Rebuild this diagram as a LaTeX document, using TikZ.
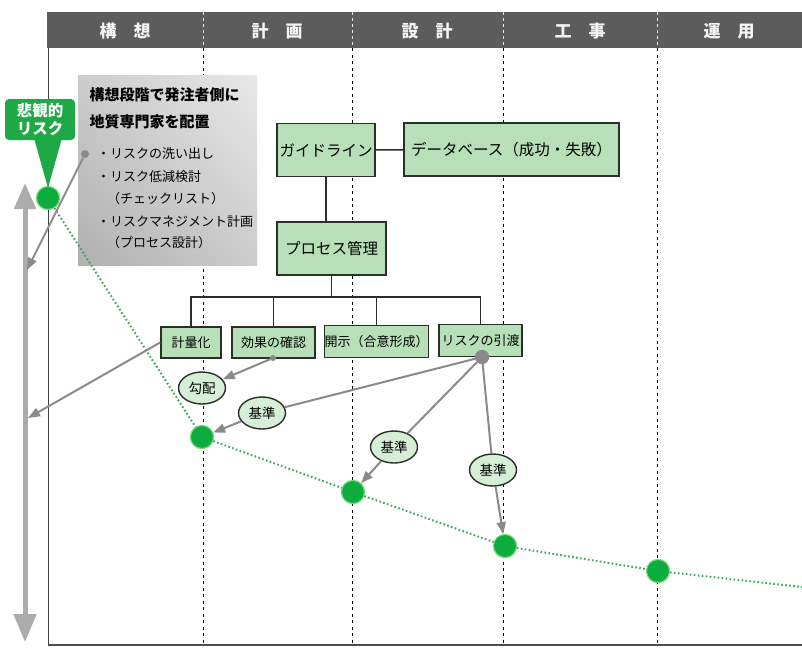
\documentclass[tikz,border=0pt]{standalone}
\usepackage{fontspec}
\setmainfont{Noto Sans CJK JP}
\usetikzlibrary{arrows.meta,shapes.geometric,shadings}
\definecolor{hdr}{RGB}{92,92,92}
\definecolor{boxgreen}{RGB}{184,224,184}
\definecolor{ellgreen}{RGB}{214,237,214}
\definecolor{dotgreen}{RGB}{12,172,62}
\definecolor{glowgreen}{RGB}{120,220,120}
\definecolor{callgreen}{RGB}{30,168,70}
\definecolor{arrgray}{RGB}{138,138,138}
\definecolor{vgray}{RGB}{172,172,172}
\definecolor{dotline}{RGB}{60,165,95}
\definecolor{edge}{RGB}{40,48,40}
\begin{document}
\begin{tikzpicture}[x=1pt,y=-1pt,
  gbox/.style={draw=edge, line width=1.7pt, fill=boxgreen, inner sep=0pt, font=\fontsize{15.5}{17}\selectfont},
  sbox/.style={draw=edge, line width=1.7pt, fill=boxgreen, inner sep=0pt, font=\fontsize{13}{15}\selectfont},
  conn/.style={draw=edge, line width=1.6pt},
  oval/.style={ellipse, draw=edge, line width=1.4pt, fill=ellgreen, minimum width=47, minimum height=32, inner sep=0pt, font=\fontsize{13.5}{15}\selectfont},
  gdotn/.style={circle, fill=arrgray, inner sep=0pt},
  risk/.style={circle, fill=dotgreen, draw=glowgreen, line width=1pt, minimum size=23, inner sep=0pt},
  garrow/.style={draw=arrgray, line width=2pt, -{Triangle[length=12pt,width=9pt]}},
  gline/.style={draw=arrgray, line width=2pt},
  hdrtxt/.style={text=white!92!gray, font=\bfseries\fontsize{17}{19}\selectfont},
  dotted green/.style={draw=dotline, line width=2pt, dash pattern=on 1.6pt off 2.4pt}
]
\useasboundingbox (0,0) rectangle (802,648);
\fill[white] (0,0) rectangle (802,648);
% header
\fill[hdr] (47,12) rectangle (802,48);
\foreach \t/\x in {構　想/125, 計　画/277, 設　計/427, 工　事/580, 運　用/729}
  \node[hdrtxt] at (\x,31) {\t};
% frame
\draw[draw=black!75, line width=1pt] (48,48) -- (48,645);
\draw[draw=black!70, line width=2pt] (48,645) -- (802,645);
% separators
\foreach \x in {203,352,503,657} {
  \draw[white!85!gray, line width=0.9pt, dash pattern=on 3pt off 3pt] (\x,12) -- (\x,48);
  \draw[black, line width=0.9pt, dash pattern=on 3pt off 3.5pt] (\x,48) -- (\x,644);
}
% vertical double arrow
\draw[vgray, line width=5pt, {Triangle[length=26pt,width=21pt]}-{Triangle[length=28pt,width=22pt]}] (25,183) -- (25,642);
\coordinate (va) at (27,270);
\coordinate (vm) at (28,418);
% grey box
\shade[upper right=gray!18, upper left=gray!40, lower left=gray!62, lower right=gray!40] (78,75) rectangle (257,265);
\node[anchor=west, font=\bfseries\fontsize{15}{17}\selectfont] (t1) at (86,95) {構想段階で発注者側に};
\node[anchor=west, font=\bfseries\fontsize{15}{17}\selectfont] (t2) at (86,122) {地質専門家を配置};
\begin{scope}[every node/.style={anchor=west, font=\fontsize{13}{15}\selectfont, inner sep=0pt}]
\node (b1) at (97,154) {・リスクの洗い出し};
\node (b2) at (97,177) {・リスク低減検討};
\node (b3) at (107,199) {（チェックリスト）};
\node (b4) at (97,222) {・リスクマネジメント計画};
\node (b5) at (107,243) {（プロセス設計）};
\end{scope}
% dotted risk curve
\coordinate (dend) at (802,587);
\node[risk] (d1) at (48,198) {};
\node[risk] (d2) at (202,437) {};
\node[risk] (d3) at (353,492) {};
\node[risk] (d4) at (505,546) {};
\node[risk] (d5) at (658,571) {};
\draw[dotted green] (d1) -- (d2) -- (d3) -- (d4) -- (d5) -- (dend);
\foreach \n in {d1,d2,d3,d4,d5} \node[risk] at (\n) {};
% callout
\fill[callgreen, rounded corners=4pt] (5,99) rectangle (75,140);
\fill[callgreen] (34,138) -- (62,138) -- (48,188) -- cycle;
\node[text=white, font=\bfseries\fontsize{15.5}{16}\selectfont] (c1) at (40,111) {悲観的};
\node[text=white, font=\bfseries\fontsize{15.5}{16}\selectfont] (c2) at (40,129) {リスク};
% arrow from grey box
\node[gdotn, minimum size=8] (boxdot) at (85,154) {};
\draw[garrow] (boxdot) -- (va);
% boxes
\node[gbox, minimum width=98, minimum height=53] (guide) at (326,150) {ガイドライン};
\node[gbox, minimum width=215, minimum height=53] (data) at (511.5,149.5) {データベース（成功・失敗）};
\node[gbox, minimum width=109, minimum height=53] (proc) at (331.5,248.5) {プロセス管理};
\node[sbox, minimum width=60, minimum height=31] (keiryo) at (191,342.5) {計量化};
\node[sbox, minimum width=83, minimum height=31] (kouka) at (273.5,342.5) {効果の確認};
\node[sbox, minimum width=101, minimum height=32] (kaiji) at (376.5,341.5) {開示（合意形成）};
\node[sbox, minimum width=83, minimum height=32] (hiki) at (480.5,340.5) {リスクの引渡};
\coordinate (bus) at (331.5,297);
\draw[conn] (guide) -- (data);
\draw[conn] (guide.south) -- (guide.south |- proc.north);
\draw[conn] (proc.south) -- (bus);
\draw[conn] (keiryo.north) |- (bus) -| (hiki.north);
\draw[conn] (kouka.north) -- (kouka.north |- bus);
\draw[conn] (kaiji.north) -- (kaiji.north |- bus);
% ovals
\node[oval] (koubai) at (202,388) {勾配};
\node[oval] (kj1) at (262,413) {基準};
\node[oval] (kj2) at (394,447) {基準};
\node[oval] (kj3) at (493,470) {基準};
% dots on boxes
\node[gdotn, minimum size=6] (kdot) at (273,358) {};
\node[gdotn, minimum size=14] (rdot) at (482,357) {};
% arrows
\draw[garrow] (keiryo.west) -- (vm);
\draw[garrow] (kdot) -- (koubai);
\draw[gline] (rdot) -- (kj1);
\draw[gline] (rdot) -- (kj2);
\draw[gline] (rdot) -- (kj3);
\draw[garrow] (kj1) -- (d2);
\draw[garrow] (kj2) -- (d3);
\draw[garrow] (kj3) -- (d4);
\node[gdotn, minimum size=14] at (rdot) {};
\end{tikzpicture}
\end{document}
